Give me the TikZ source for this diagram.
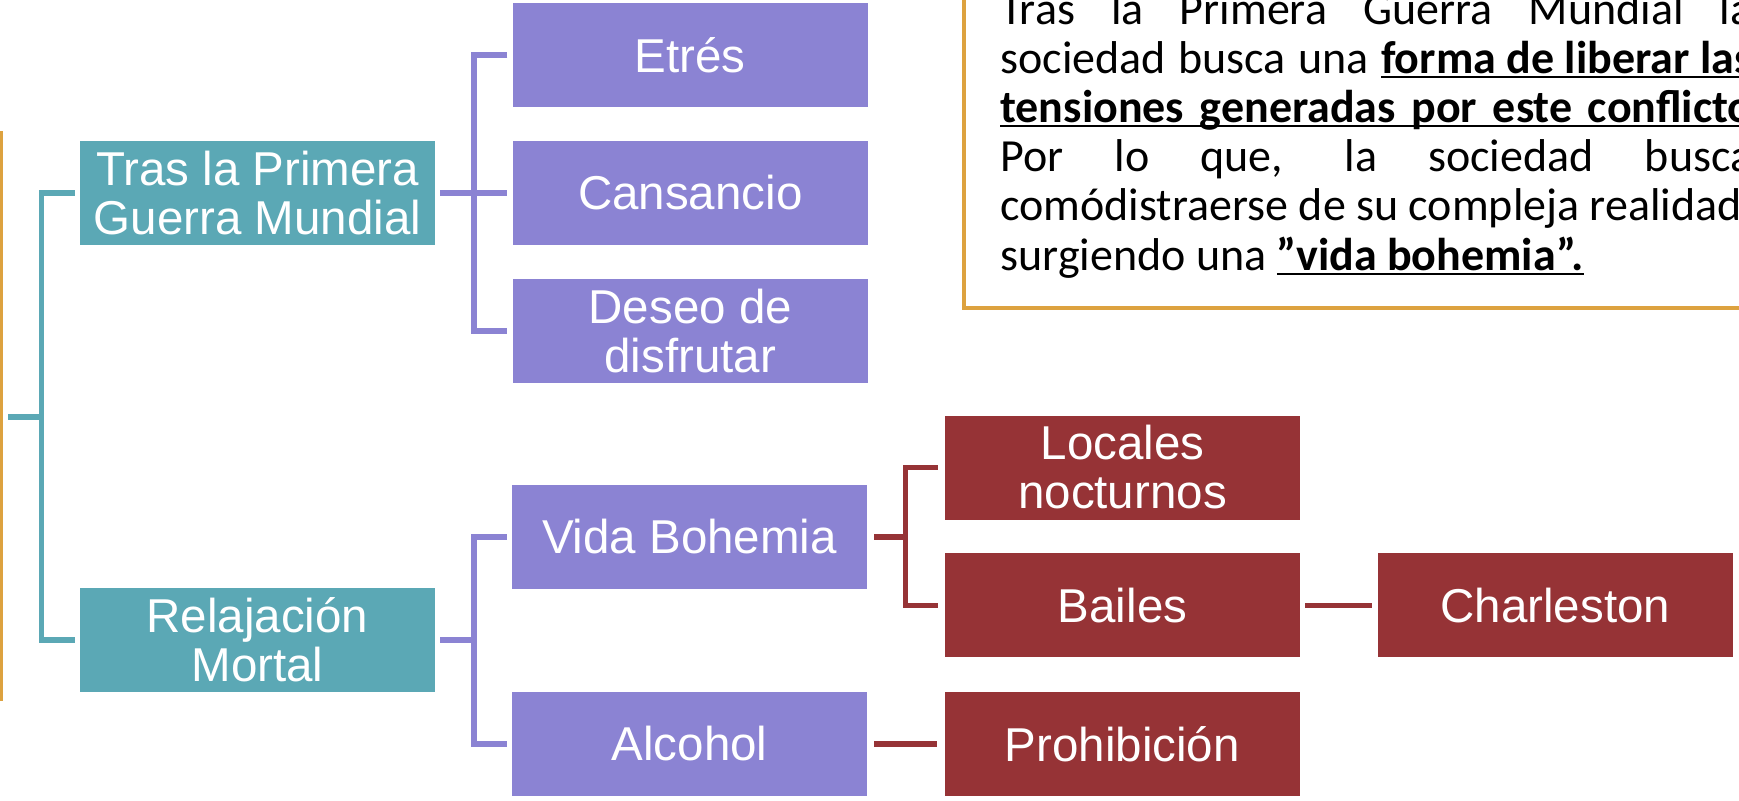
\documentclass[tikz,border=0pt]{standalone}
\usepackage{fontspec}
\setmainfont{Liberation Sans}
\newfontfamily\notafont{Carlito}
\usepackage{tikz}
\usetikzlibrary{positioning}

\definecolor{verdeazul}{RGB}{91,168,181}
\definecolor{lila}{RGB}{139,131,211}
\definecolor{granate}{RGB}{150,51,54}
\definecolor{oro}{RGB}{221,162,63}

\newsavebox{\cajaray}
\newcommand{\rayado}[1]{\sbox{\cajaray}{#1}\rlap{\rule[-2.5pt]{\wd\cajaray}{1pt}}\usebox{\cajaray}}

\begin{document}
\begin{tikzpicture}[x=0.5pt, y=-0.5pt,
    caja/.style={rectangle, minimum width=177.5pt, minimum height=52pt, inner sep=0pt,
                 text=white, align=center, font=\fontsize{23.75pt}{24.5pt}\selectfont},
    nivel1/.style={caja, fill=verdeazul},
    nivel2/.style={caja, fill=lila},
    nivel3/.style={caja, fill=granate},
    rama/.style={line width=2.75pt},
    nota/.style={inner sep=0pt, align=left, text=black,
                 font=\notafont\fontsize{23pt}{24.6pt}\selectfont}]
    \useasboundingbox (0,0) rectangle (1739,800);
    \fill[white] (0,0) rectangle (1739,800);
    \clip (0,0) rectangle (1739,800);

    % cuadros
    \node[nivel1] (tras) at (257.5,193) {Tras la Primera\\Guerra Mundial};
    \node[nivel1] (relajacion) at (257.5,640) {Relajación\\Mortal};
    \node[nivel2, right=38.5pt of tras] (cansancio) {Cansancio};
    \node[nivel2, above=16.5pt of cansancio] (etres) {Etrés};
    \node[nivel2, below=16.5pt of cansancio] (deseo) {Deseo de\\disfrutar};
    \node[nivel2] (vida) at (689.5,537) {Vida Bohemia};
    \node[nivel2, below=51pt of vida] (alcohol) {Alcohol};
    \node[nivel3] (locales) at (1122.5,467.5) {Locales\\nocturnos};
    \node[nivel3, below=16.5pt of locales] (bailes) {Bailes};
    \node[nivel3, right=38.5pt of alcohol] (prohibicion) {Prohibición};
    \node[nivel3, right=38.5pt of bailes] (charleston) {Charleston};

    % llaves
    \draw[oro, line width=3pt] (0,131) -- (0,701);
    \coordinate (raiz) at (8,417);
    \coordinate (tronco) at (41.5,417);
    \draw[rama, verdeazul] (raiz) -- (tronco);
    \draw[rama, verdeazul] ([xshift=-2.5pt]tras.west) -| (tronco) |- ([xshift=-2.5pt]relajacion.west);

    \coordinate[right=19.25pt of tras.east] (nudo1);
    \draw[rama, lila] ([xshift=2.5pt]tras.east) -- ([xshift=-2.5pt]cansancio.west);
    \draw[rama, lila] ([xshift=-2.5pt]etres.west) -| (nudo1) |- ([xshift=-2.5pt]deseo.west);

    \coordinate[right=19.25pt of relajacion.east] (nudo2);
    \draw[rama, lila] ([xshift=2.5pt]relajacion.east) -- (nudo2);
    \draw[rama, lila] ([xshift=-2.5pt]vida.west) -| (nudo2) |- ([xshift=-2.5pt]alcohol.west);

    \coordinate[right=19pt of vida.east] (nudo3);
    \draw[rama, granate] ([xshift=3.5pt]vida.east) -- (nudo3);
    \draw[rama, granate] ([xshift=-3.5pt]locales.west) -| (nudo3) |- ([xshift=-3.5pt]bailes.west);
    \draw[rama, granate] ([xshift=3.5pt]alcohol.east) -- ([xshift=-3.5pt]prohibicion.west);
    \draw[rama, granate] ([xshift=2.5pt]bailes.east) -- ([xshift=-2.5pt]charleston.west);

    % recuadro de texto
    \draw[oro, line width=2.2pt] (964,-40) rectangle (1800,308);
    \node[nota, anchor=base west] (parrafo) at (1000,270) {%
        \makebox[376pt][s]{Tras la Primera Guerra Mundial la}\\
        \makebox[376pt][s]{sociedad busca una \rayado{\textbf{forma de liberar las}}}\\
        \rayado{\makebox[376pt][s]{\textbf{tensiones generadas por este conflicto}}}\\
        \makebox[376pt][s]{Por lo que, la sociedad busca}\\
        comódistraerse de su compleja realidad\\
        surgiendo una \rayado{\textbf{”vida bohemia”.}}};
\end{tikzpicture}
\end{document}
